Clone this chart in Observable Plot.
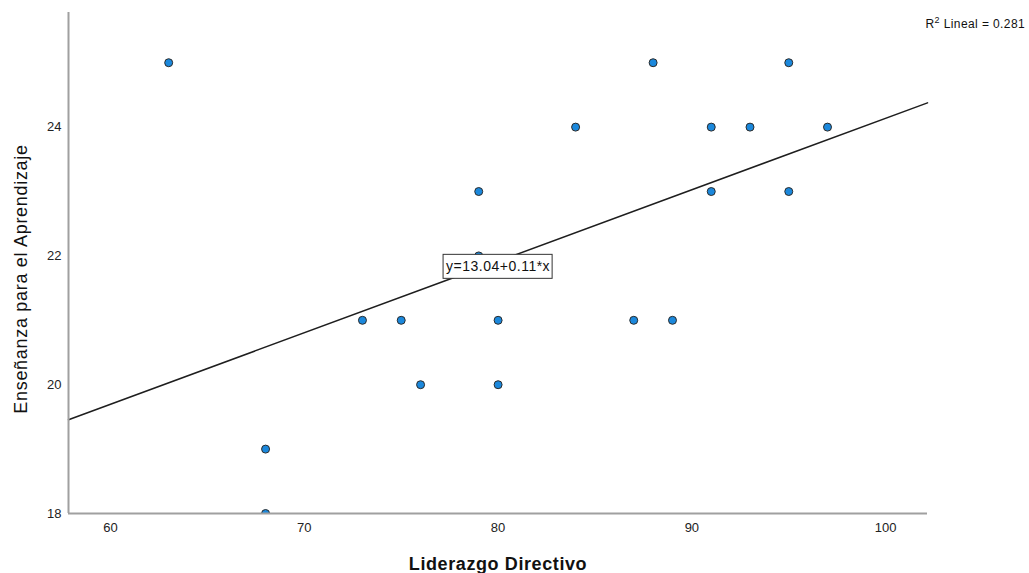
<!DOCTYPE html>
<html><head><meta charset="utf-8">
<script src="https://cdn.jsdelivr.net/npm/d3@7"></script>
<script src="https://cdn.jsdelivr.net/npm/@observablehq/plot@0.6"></script>
<style>body{margin:0;background:#fff}</style>
</head><body><div id="chart"></div>
<script>
const liderazgo = [63,68,68,73,75,76,79,79,80,80,84,87,88,89,91,91,93,95,95,97];
const ensenanza = [25,19,18,21,21,20,23,22,21,20,24,21,25,21,24,23,24,25,23,24];
const xTicks = [60,70,80,90,100];
const yTicks = [18,20,22,24];
const xDomain = [57.83, 102.16];
const yDomain = [18, 25.78];
const xTitle = "Liderazgo Directivo";
const yTitle = "Enseñanza para el Aprendizaje";
const labelAt = {x: 80, y: 21.83};

const data = liderazgo.map((x, i) => ({x, y: ensenanza[i]}));
const mx = d3.mean(liderazgo), my = d3.mean(ensenanza);
const sxy = d3.sum(data, d => (d.x - mx) * (d.y - my));
const sxx = d3.sum(data, d => (d.x - mx) ** 2);
const syy = d3.sum(data, d => (d.y - my) ** 2);
const slope = sxy / sxx;
const intercept = my - slope * mx;
const r2 = sxy * sxy / (sxx * syy);
const fitLine = xDomain.map(x => ({x, y: intercept + slope * x}));
const eqText = `y=${intercept.toFixed(2)}+${slope.toFixed(2)}*x`;
const r2Rest = ` Lineal = ${r2.toFixed(3)}`;
const r2Text = `R2${r2Rest}`;

const font = "'Liberation Sans', Arial, sans-serif";
const svg = Plot.plot({
  width: 1029, height: 573,
  marginLeft: 68, marginRight: 102, marginTop: 12, marginBottom: 60,
  style: {fontFamily: font, fontSize: "13px", color: "#222", background: "#fff"},
  x: {domain: xDomain},
  y: {domain: yDomain},
  marks: [
    Plot.dot(data, {x: "x", y: "y", r: 4, fill: "#1b88dc", stroke: "#2b2b2b", strokeWidth: 1, clip: true}),
    Plot.line(fitLine, {x: "x", y: "y", stroke: "#1e1e1e", strokeWidth: 1.5}),
    Plot.ruleX([xDomain[0]], {stroke: "#a0a0a0", strokeWidth: 2}),
    Plot.ruleY([yDomain[0]], {stroke: "#a0a0a0", strokeWidth: 2}),
    Plot.axisX({ticks: xTicks, tickSize: 0, tickPadding: 9, label: null, fill: "#222"}),
    Plot.axisY({ticks: yTicks, tickSize: 0, tickPadding: 7, label: null, fill: "#222"}),
    Plot.text([eqText], {x: () => labelAt.x, y: () => labelAt.y, text: d => d, fontSize: 14, fill: "#111", lineAnchor: "middle"}),
    Plot.text([r2Text], {frameAnchor: "top-right", text: d => d, textAnchor: "start", lineAnchor: "bottom", dx: -2, dy: 15, fontSize: 12, fill: "#111"}),
    Plot.text([xTitle], {frameAnchor: "bottom", text: d => d, lineAnchor: "bottom", dy: 56, fontSize: 18, fontWeight: "bold", fill: "#111"}),
    Plot.text([yTitle], {frameAnchor: "left", text: d => d, rotate: -90, textAnchor: "middle", lineAnchor: "bottom", dx: -42, dy: 16, fontSize: 18, fill: "#111"})
  ]
});
document.getElementById("chart").appendChild(svg);

const texts = Array.from(svg.querySelectorAll("text"));
texts.forEach(t => {
  const s = t.textContent;
  if (s === xTitle) t.setAttribute("letter-spacing", "0.6");
  if (s === yTitle) t.setAttribute("letter-spacing", "0.7");
  if (s === r2Text) {
    t.setAttribute("letter-spacing", "0.4");
    while (t.firstChild) t.removeChild(t.firstChild);
    t.appendChild(document.createTextNode("R"));
    const sup = document.createElementNS("http://www.w3.org/2000/svg", "tspan");
    sup.setAttribute("font-size", "9");
    sup.setAttribute("dy", "-5");
    sup.textContent = "2";
    t.appendChild(sup);
    const rest = document.createElementNS("http://www.w3.org/2000/svg", "tspan");
    rest.setAttribute("dy", "5");
    rest.textContent = r2Rest;
    t.appendChild(rest);
  }
  if (s === eqText) {
    t.setAttribute("letter-spacing", "0.5");
    const b = t.getBBox();
    const rect = document.createElementNS("http://www.w3.org/2000/svg", "rect");
    rect.setAttribute("x", b.x - 3);
    rect.setAttribute("y", b.y - 4);
    rect.setAttribute("width", b.width + 5);
    rect.setAttribute("height", b.height + 8);
    rect.setAttribute("fill", "#fff");
    rect.setAttribute("stroke", "#333");
    rect.setAttribute("stroke-width", 1);
    if (t.getAttribute("transform")) rect.setAttribute("transform", t.getAttribute("transform"));
    t.parentNode.insertBefore(rect, t);
  }
});
</script>
</body></html>
